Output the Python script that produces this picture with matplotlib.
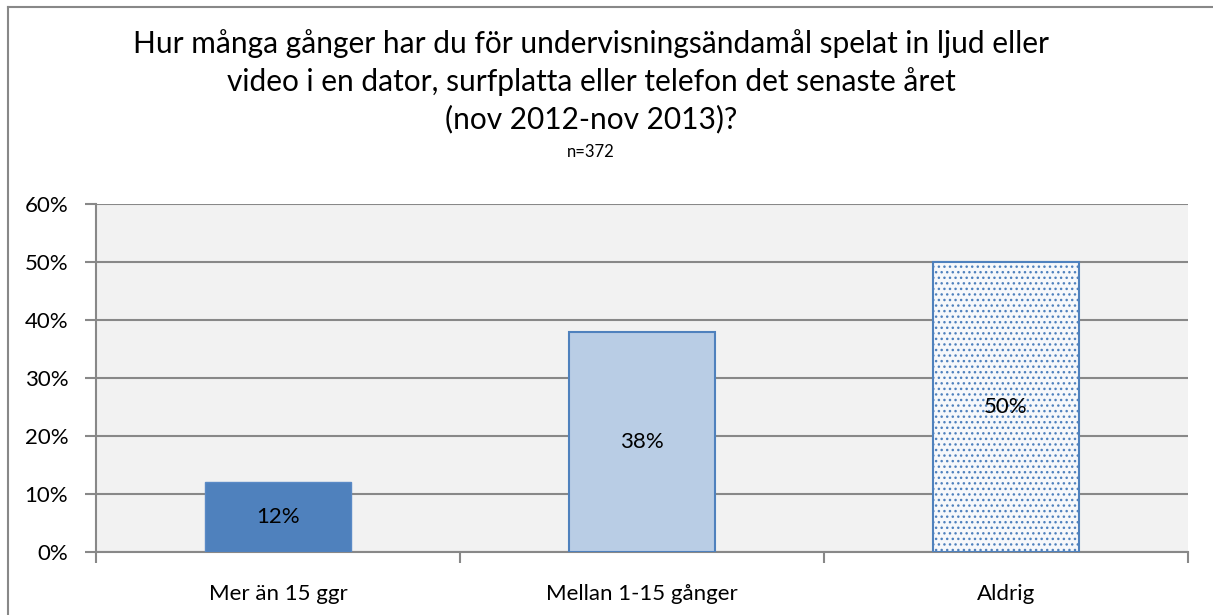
import matplotlib.pyplot as plt

plt.rcParams['font.family'] = ['Lato', 'DejaVu Sans']
plt.rcParams['hatch.linewidth'] = 1.0

categories = ['Mer än 15 ggr', 'Mellan 1-15 gånger', 'Aldrig']
values = [0.12, 0.38, 0.50]
labels = ['12%', '38%', '50%']
yticks = [0, 0.1, 0.2, 0.3, 0.4, 0.5, 0.6]
title = ('Hur många gånger har du för undervisningsändamål spelat in ljud eller\n'
         'video i en dator, surfplatta eller telefon det senaste året\n'
         '(nov 2012-nov 2013)?')
subtitle = 'n=372'

blue = '#4F81BD'
grid_c = '#888888'

fig = plt.figure(figsize=(12.13, 6.15), dpi=100)

# outer chart border: a bare axes whose left and top spines fall inside the picture
bx, by = 7.5 / 1213, 1 - 7.5 / 615
frame = fig.add_axes([bx, -0.1, 1.2, by + 0.1], zorder=-1)
frame.set_xticks([])
frame.set_yticks([])
frame.patch.set_visible(False)
for s in ['right', 'bottom']:
    frame.spines[s].set_visible(False)
for s in ['left', 'top']:
    frame.spines[s].set_color(grid_c)
    frame.spines[s].set_linewidth(1.5)

ax = fig.add_axes([96 / 1213, 63 / 615, 1092 / 1213, 348 / 615])
ax.set_facecolor('#F2F2F2')

x = range(len(categories))
ax.bar(0, values[0], width=0.4, color=blue, edgecolor='#5A8AC6', linewidth=1, zorder=3)
ax.bar(1, values[1], width=0.4, color='#B9CDE5', edgecolor=blue, linewidth=1.5, zorder=3)
ax.bar(2, values[2], width=0.4, color='#F6F8FB', edgecolor=blue, linewidth=1.5,
       hatch='...', zorder=3)
for i, v in enumerate(values):
    ax.text(i, v / 2, labels[i], ha='center', va='center', fontsize=16, zorder=4)

ax.set_xlim(-0.5, 2.5)
ax.set_ylim(0, 0.6)
ax.set_yticks(yticks)
ax.set_yticklabels([f'{int(t * 100)}%' for t in yticks], fontsize=16)
ax.set_xticks([-0.5, 0.5, 1.5, 2.5])
ax.set_xticklabels([])
ax.set_xticks(list(x), minor=True)
ax.set_xticklabels(categories, minor=True, fontsize=16)
ax.tick_params(axis='x', which='minor', length=0, pad=23)
ax.tick_params(axis='both', which='major', length=8, width=1.5, color=grid_c, direction='out')
ax.tick_params(axis='y', pad=12)
ax.grid(axis='y', color=grid_c, linewidth=1.5, zorder=1)
ax.set_axisbelow(True)
for s in ['top', 'right']:
    ax.spines[s].set_visible(False)
for s in ['left', 'bottom']:
    ax.spines[s].set_color(grid_c)
    ax.spines[s].set_linewidth(1.5)

fig.text(591 / 1213, 1 - 81 / 615, title, ha='center', va='center', fontsize=21.5,
         linespacing=1.38)
fig.text(591 / 1213, 1 - 152 / 615, subtitle, ha='center', va='center', fontsize=12)

fig.savefig('out.png', dpi=100)
